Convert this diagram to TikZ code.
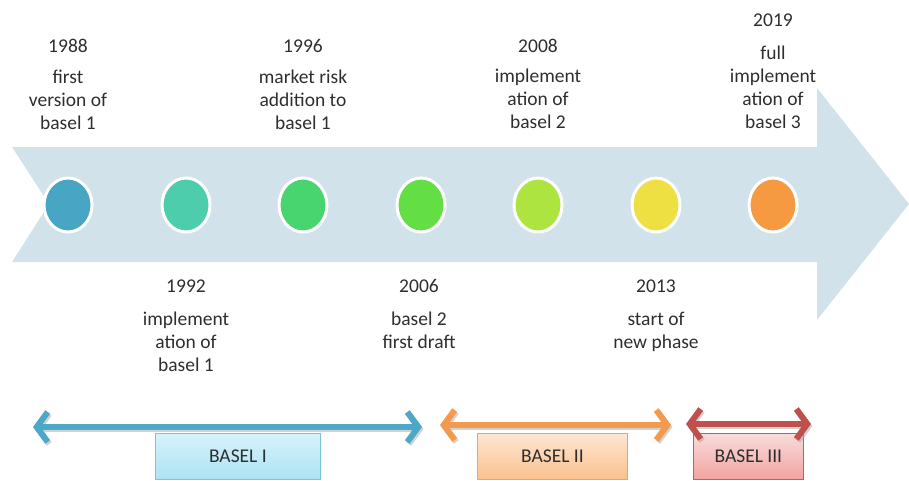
\documentclass[tikz,border=0pt]{standalone}
\usepackage{fontspec}
\setmainfont{Carlito}
\usetikzlibrary{arrows.meta,shapes.geometric}

% palette
\definecolor{band}{HTML}{D1E2EA}
\definecolor{txt}{HTML}{2E2E2E}
\definecolor{dotA}{HTML}{48A6C4}
\definecolor{dotB}{HTML}{4DCDAC}
\definecolor{dotC}{HTML}{48D46E}
\definecolor{dotD}{HTML}{63DE45}
\definecolor{dotE}{HTML}{AEE43F}
\definecolor{dotF}{HTML}{EEDF42}
\definecolor{dotG}{HTML}{F69A42}
\definecolor{spanI}{HTML}{4BA8C6}
\definecolor{spanII}{HTML}{F39A4E}
\definecolor{spanIII}{HTML}{C0504D}
\definecolor{boxItop}{HTML}{D6F2FB}
\definecolor{boxIbot}{HTML}{ADE3F4}
\definecolor{boxIline}{HTML}{7FC3DB}
\definecolor{boxIItop}{HTML}{FEE6D2}
\definecolor{boxIIbot}{HTML}{FAC18E}
\definecolor{boxIIline}{HTML}{F3A35E}
\definecolor{boxIIItop}{HTML}{F9DCDB}
\definecolor{boxIIIbot}{HTML}{F0A3A1}
\definecolor{boxIIIline}{HTML}{C65C59}

\tikzset{
  label text/.style={font=\fontsize{19.5}{23}\selectfont, text=txt, align=center,
                     inner sep=0pt, anchor=base},
  year/.style={label text},
  event/.style={label text},
  dot/.style={ellipse, minimum width=48pt, minimum height=54pt, inner sep=0pt,
              draw=white, line width=3pt, fill=#1},
  span/.style={line width=6pt, draw=#1,
               {Straight Barb[length=11pt,width=30pt]}-{Straight Barb[length=11pt,width=30pt]}},
  spanshadow/.style={line width=6pt, draw=black!35, opacity=0.5,
               {Straight Barb[length=11pt,width=30pt]}-{Straight Barb[length=11pt,width=30pt]}},
  era/.style={line width=0.8pt, minimum height=46pt, inner sep=0pt,
              font=\fontsize{19.5}{23}\selectfont, text=txt, anchor=north west},
}

\begin{document}
\begin{tikzpicture}[x=1pt,y=-1pt]
  \useasboundingbox (0,0) rectangle (909,480);

  % the big timeline arrow
  \fill[band] (12,147) -- (817,147) -- (817,88) -- (909,204) -- (817,320)
              -- (817,262) -- (12,262) -- (49,204) -- cycle;

  % milestones on the band
  \node[dot=dotA] (m1988) at (68,205) {};
  \node[dot=dotB] (m1992) at (186,205) {};
  \node[dot=dotC] (m1996) at (303,205) {};
  \node[dot=dotD] (m2006) at (421,205) {};
  \node[dot=dotE] (m2008) at (538,205) {};
  \node[dot=dotF] (m2013) at (656,205) {};
  \node[dot=dotG] (m2019) at (773,205) {};

  % labels above the band (anchored on the baseline of their last line)
  \node[year]  (y1988) at (68,52)   {1988};
  \node[event] (e1988) at (68,129)  {first\\version of\\basel 1};
  \node[year]  (y1996) at (303,52)  {1996};
  \node[event] (e1996) at (303,129) {market risk\\addition to\\basel 1};
  \node[year]  (y2008) at (538,52)  {2008};
  \node[event] (e2008) at (538,128) {implement\\ation of\\basel 2};
  \node[year]  (y2019) at (773,26)  {2019};
  \node[event] (e2019) at (773,128) {full\\implement\\ation of\\basel 3};

  % labels below the band
  \node[year]  (y1992) at (186,292) {1992};
  \node[event] (e1992) at (186,371) {implement\\ation of\\basel 1};
  \node[year]  (y2006) at (419,292) {2006};
  \node[event] (e2006) at (419,348) {basel 2\\first draft};
  \node[year]  (y2013) at (656,292) {2013};
  \node[event] (e2013) at (656,348) {start of\\new phase};

  % era boxes
  \node[era, draw=boxIline, top color=boxItop, bottom color=boxIbot, minimum width=165pt]
       (bI) at (155,433) {BASEL I};
  \node[era, draw=boxIIline, top color=boxIItop, bottom color=boxIIbot, minimum width=150pt]
       (bII) at (477,433) {BASEL II};
  \node[era, draw=boxIIIline, top color=boxIIItop, bottom color=boxIIIbot, minimum width=110pt]
       (bIII) at (693,433) {BASEL III};

  % era spans
  \coordinate (sIa) at (33,427);   \coordinate (sIb) at (422,427);
  \coordinate (sIIa) at (440,425); \coordinate (sIIb) at (671,425);
  \coordinate (sIIIa) at (686,424); \coordinate (sIIIb) at (811,424);

  \draw[spanshadow] ([shift={(1.5,2)}]sIa) -- ([shift={(1.5,2)}]sIb);
  \draw[span=spanI] (sIa) -- (sIb);
  \draw[spanshadow] ([shift={(1.5,2)}]sIIa) -- ([shift={(1.5,2)}]sIIb);
  \draw[span=spanII] (sIIa) -- (sIIb);
  \draw[spanshadow] ([shift={(1.5,2)}]sIIIa) -- ([shift={(1.5,2)}]sIIIb);
  \draw[span=spanIII] (sIIIa) -- (sIIIb);
\end{tikzpicture}
\end{document}
